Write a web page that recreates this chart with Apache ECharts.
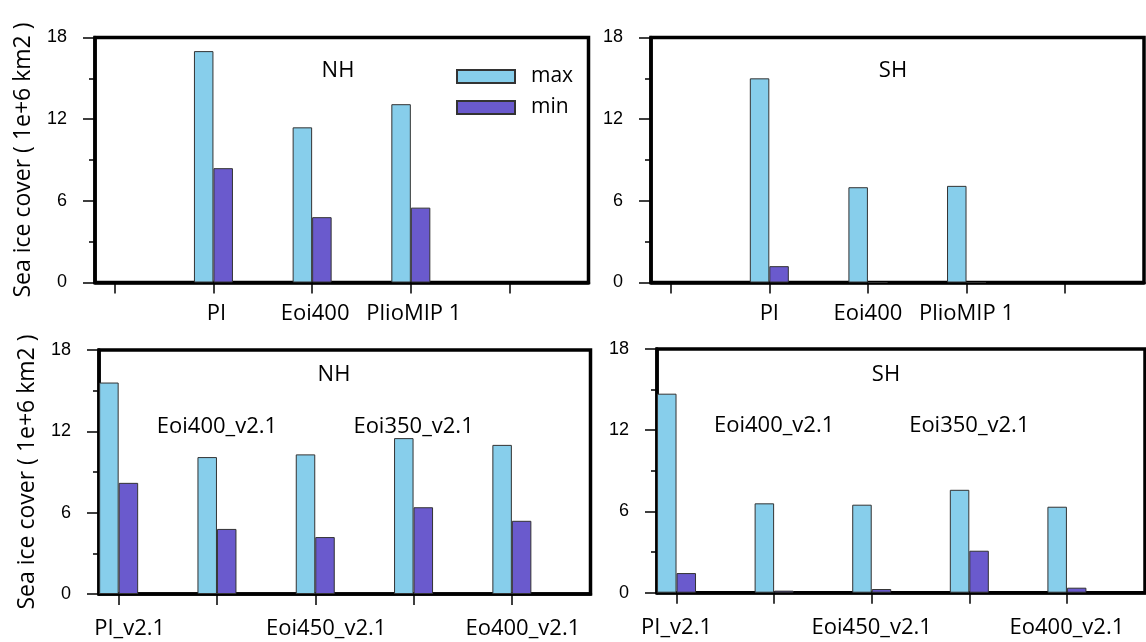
<!DOCTYPE html>
<html><head><meta charset="utf-8">
<script src="https://cdn.jsdelivr.net/npm/echarts@6/dist/echarts.min.js"></script>
<style>html,body{margin:0;padding:0;background:#fff}#c{width:1146px;height:642px}</style>
</head><body><div id="c"></div>
<script>
// slots 1..5 on the x axis
const topCategories = ['', 'PI', 'Eoi400', 'PlioMIP 1', ''];
const topMaxNH = [null, 17.0, 11.4, 13.1, null];
const topMinNH = [null, 8.4, 4.8, 5.5, null];
const topMaxSH = [null, 15.0, 7.0, 7.1, null];
const topMinSH = [null, 1.2, 0.0, 0.0, null];

const botCategories = ['PI_v2.1', 'Eoi400_v2.1', 'Eoi450_v2.1', 'Eoi350_v2.1', 'Eo400_v2.1'];
const botMaxNH = [15.6, 10.1, 10.3, 11.5, 11.0];
const botMinNH = [8.2, 4.8, 4.2, 6.4, 5.4];
const botMaxSH = [14.7, 6.6, 6.5, 7.6, 6.35];
const botMinSH = [1.45, 0.15, 0.27, 3.1, 0.37];

const yTicks = [0, 6, 12, 18];
const slots = [1, 2, 3, 4, 5];
const topLabelSlots = [2, 3, 4];
const botOuterSlots = [1, 3, 5];
const botInnerSlots = [2, 4];

const chart = echarts.init(document.getElementById('c'));
const FRAME = 3.5;
const xFont = 'Open Sans';

function pairs(arr) { return arr.map((v, i) => v == null ? null : [slots[i], v]).filter(Boolean); }

const grids = [
  {left: 95, top: 37.5, width: 493.5, height: 245},
  {left: 651, top: 37.5, width: 493, height: 245},
  {left: 99, top: 350, width: 491.5, height: 244},
  {left: 657, top: 349, width: 488, height: 243.7}
].map(g => Object.assign(g, {show: true, borderColor: '#000', borderWidth: FRAME, backgroundColor: 'transparent', containLabel: false}));

function xAxisMain(gi, cats, labelSlots, shift, margin) {
  return {
    type: 'value', gridIndex: gi, min: 0.8, max: 5.8, position: 'bottom',
    splitLine: {show: false},
    axisLine: {show: true, onZero: false, lineStyle: {color: '#000', width: FRAME}},
    axisTick: {show: true, customValues: slots, length: 11, lineStyle: {color: '#000', width: 1.5}},
    axisLabel: {show: true, customValues: labelSlots, margin: margin, color: '#000', fontFamily: xFont, fontSize: 22,
      formatter: v => '{s|' + cats[Math.round(v) - 1] + '}',
      rich: {s: {color: '#000', fontFamily: xFont, fontSize: 22, padding: [0, 0, 0, shift * 2]}}}
  };
}
function xAxisInner(gi, cats, labelSlots) {
  return {
    type: 'value', gridIndex: gi, min: 0.8, max: 5.8, position: 'top',
    splitLine: {show: false}, axisLine: {show: false}, axisTick: {show: false},
    axisLabel: {show: true, inside: true, customValues: labelSlots, margin: 66, color: '#000', fontFamily: xFont, fontSize: 22,
      formatter: v => cats[Math.round(v) - 1]}
  };
}
function yAxis(gi, withName) {
  return {
    type: 'value', gridIndex: gi, min: yTicks[0], max: yTicks[yTicks.length - 1], interval: yTicks[1] - yTicks[0],
    splitLine: {show: false},
    axisLine: {show: true, lineStyle: {color: '#000', width: FRAME}},
    axisTick: {show: true, length: 12, lineStyle: {color: '#000', width: 1.5}},
    minorTick: {show: true, splitNumber: 2, length: 6, lineStyle: {color: '#000', width: 1.5}},
    axisLabel: {margin: 28, color: '#000', fontFamily: 'Liberation Sans', fontSize: 18},
    name: withName ? 'Sea ice cover ( 1e+6 km2 )' : '',
    nameLocation: 'middle', nameGap: 60,
    nameTextStyle: {color: '#000', fontFamily: xFont, fontSize: 23}
  };
}

const maxStyle = {color: '#87CEEB', borderColor: '#333', borderWidth: 1};
const minStyle = {color: '#6A5ACD', borderColor: '#333', borderWidth: 1};
function barPair(ai, maxArr, minArr) {
  return [
    {name: 'max', type: 'bar', xAxisIndex: ai, yAxisIndex: ai, data: pairs(maxArr), barWidth: 19.5, barGap: '0%', itemStyle: maxStyle, silent: true, animation: false},
    {name: 'min', type: 'bar', xAxisIndex: ai, yAxisIndex: ai, data: pairs(minArr), barWidth: 19.5, barGap: '0%', itemStyle: minStyle, silent: true, animation: false}
  ];
}

const panelText = (t, x, y) => ({type: 'text', x: x, y: y, silent: true,
  style: {text: t, fill: '#000', font: '22px "Open Sans"', align: 'center', verticalAlign: 'middle'}});

chart.setOption({
  animation: false,
  grid: grids,
  xAxis: [
    xAxisMain(0, topCategories, topLabelSlots, 3, 20),
    xAxisMain(1, topCategories, topLabelSlots, 0, 20),
    xAxisMain(2, botCategories, botOuterSlots, 11, 24),
    xAxisMain(3, botCategories, botOuterSlots, 0, 24),
    xAxisInner(2, botCategories, botInnerSlots),
    xAxisInner(3, botCategories, botInnerSlots)
  ],
  yAxis: [yAxis(0, true), yAxis(1, false), yAxis(2, true), yAxis(3, false)],
  legend: {
    data: ['max', 'min'], orient: 'vertical', left: 456, top: 66, padding: 0,
    itemWidth: 58, itemHeight: 13, itemGap: 10, icon: 'rect', selectedMode: false,
    textStyle: {color: '#000', fontFamily: xFont, fontSize: 21, padding: [0, 0, 0, 11]}
  },
  graphic: [
    panelText('NH', 338, 71),
    panelText('SH', 893, 71),
    panelText('NH', 334, 375),
    panelText('SH', 886, 375)
  ],
  series: [].concat(
    barPair(0, topMaxNH, topMinNH),
    barPair(1, topMaxSH, topMinSH),
    barPair(2, botMaxNH, botMinNH),
    barPair(3, botMaxSH, botMinSH)
  )
});
</script></body></html>
